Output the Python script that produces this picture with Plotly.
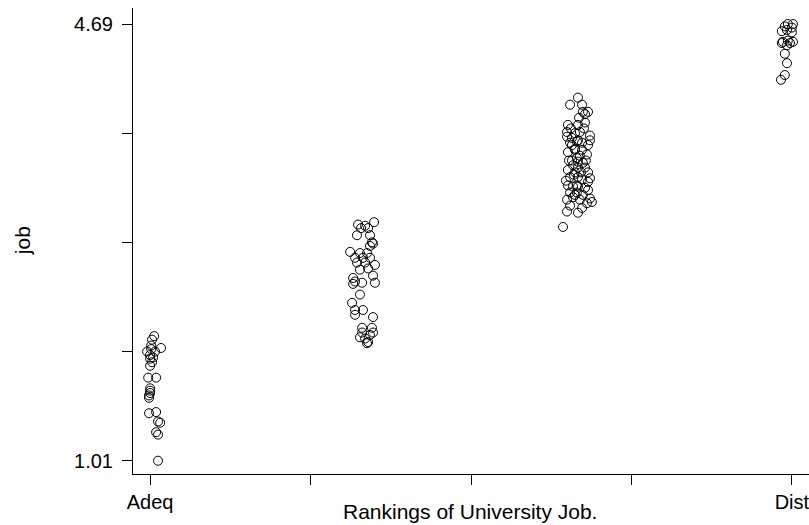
import plotly.graph_objects as go

# Group positions (ranking level) and jittered points
group_pos = [1, 2, 3, 4]

g1_jit = [0.019, 0.009, 0.051, 0.005, 0.005, 0.023, -0.014, 0.0, 0.014, 0.0, 0.009, 0.0,
          -0.009, 0.028, 0.0, 0.0, 0.0, -0.005, -0.005, -0.005, 0.028, 0.037, 0.047, 0.028,
          0.037, 0.037]
g1_y = [2.06, 2.03, 1.96, 1.98, 1.95, 1.93, 1.93, 1.90, 1.88, 1.87, 1.84, 1.81,
        1.71, 1.71, 1.62, 1.60, 1.58, 1.56, 1.54, 1.41, 1.42, 1.34, 1.33, 1.25,
        1.23, 1.01]

g2_jit = [0.047, -0.028, 0.005, -0.014, 0.019, -0.033, 0.028, 0.037, 0.042, 0.028,
          -0.065, -0.019, 0.014, -0.042, -0.005, 0.028, -0.033, 0.005, 0.051, -0.019,
          0.019, 0.042, -0.051, -0.042, -0.009, 0.051, -0.051, -0.019, -0.056, -0.042,
          -0.005, -0.042, 0.042, -0.009, 0.037, -0.009, 0.042, 0.028, 0.005, 0.019,
          0.014, -0.019]
g2_y = [3.02, 3.00, 2.99, 2.97, 2.97, 2.91, 2.91, 2.85, 2.84, 2.82,
        2.77, 2.76, 2.76, 2.72, 2.72, 2.72, 2.68, 2.68, 2.66, 2.62,
        2.63, 2.57, 2.55, 2.52, 2.51, 2.51, 2.50, 2.41, 2.34, 2.28,
        2.28, 2.24, 2.22, 2.13, 2.13, 2.09, 2.09, 2.07, 2.04, 2.01,
        2.00, 2.05]

g3_jit = [0.0, -0.037, 0.019, 0.023, 0.047, 0.033, -0.047, 0.0, 0.033, -0.051,
          -0.014, 0.009, 0.056, -0.051, -0.028, 0.0, -0.037, -0.005, 0.019, 0.047,
          -0.047, -0.014, 0.019, 0.042, -0.028, -0.005, 0.0, -0.023, 0.023, 0.0,
          0.033, -0.047, -0.014, 0.047, -0.037, 0.0, 0.056, 0.019, 0.047, -0.047,
          -0.023, 0.0, 0.033, -0.037, -0.005, 0.023, 0.056, -0.051, -0.023, 0.009,
          0.042, 0.065, -0.037, -0.051, -0.070,
          -0.014, 0.009, -0.028, 0.037, -0.019, 0.014, -0.005, 0.056, -0.056, 0.028,
          -0.033, 0.005, -0.014, 0.047, -0.042, 0.019, 0.0]
g3_y = [4.07, 4.01, 4.01, 3.95, 3.95, 3.93, 3.84, 3.84, 3.86, 3.78,
        3.77, 3.78, 3.75, 3.74, 3.73, 3.71, 3.69, 3.70, 3.69, 3.67,
        3.61, 3.64, 3.63, 3.59, 3.54, 3.56, 3.53, 3.50, 3.52, 3.48,
        3.48, 3.46, 3.44, 3.44, 3.40, 3.40, 3.39, 3.38, 3.36, 3.33,
        3.32, 3.32, 3.31, 3.27, 3.27, 3.25, 3.22, 3.21, 3.23, 3.21,
        3.18, 3.19, 3.16, 3.11, 2.98,
        3.63, 3.58, 3.67, 3.54, 3.42, 3.44, 3.33, 3.71, 3.37, 3.81,
        3.81, 3.90, 3.25, 3.29, 3.54, 3.14, 3.10]

g4_jit = [-0.019, 0.005, -0.033, 0.0, -0.047, -0.023, 0.0, -0.042, -0.019, 0.005,
          -0.047, -0.009, -0.023, -0.033, -0.023, -0.033, -0.051]
g4_y = [4.69, 4.69, 4.67, 4.66, 4.63, 4.64, 4.62, 4.54, 4.55, 4.54,
        4.53, 4.53, 4.51, 4.44, 4.36, 4.26, 4.22]

x_tickvals = [1, 1.75, 2.5, 3.25, 4]
x_ticktext = ["Adeq", "", "", "", "Dist"]
y_tickvals = [1.01, 1.93, 2.85, 3.77, 4.69]
y_ticktext = ["1.01", "", "", "", "4.69"]
x_title = "Rankings of University Job."
y_title = "job"

xs, ys = [], []
for pos, jit, yv in zip(group_pos, [g1_jit, g2_jit, g3_jit, g4_jit], [g1_y, g2_y, g3_y, g4_y]):
    xs += [pos + j for j in jit]
    ys += yv

fig = go.Figure(go.Scatter(
    x=xs, y=ys, mode="markers",
    marker=dict(symbol="circle-open", size=9, color="black", line=dict(width=1, color="black")),
    showlegend=False, hoverinfo="skip"))

font = dict(family="Liberation Sans, Arial, sans-serif", size=20, color="black")
title_font = dict(family="Liberation Sans, Arial, sans-serif", size=21, color="black")

fig.update_layout(
    width=809, height=525,
    margin=dict(l=133, r=0, t=8, b=51),
    paper_bgcolor="white", plot_bgcolor="white",
    font=font,
    xaxis=dict(range=[0.92, 4.08], tickvals=x_tickvals, ticktext=x_ticktext,
               ticks="outside", ticklen=10, tickcolor="black", tickwidth=1,
               showline=True, linecolor="black", linewidth=1, showgrid=False,
               zeroline=False, tickfont=font, automargin=False, ticklabelstandoff=0,
               ticklabeloverflow="allow"),
    yaxis=dict(range=[0.898, 4.825], tickvals=y_tickvals, ticktext=y_ticktext,
               ticks="outside", ticklen=10, tickcolor="black", tickwidth=1,
               showline=True, linecolor="black", linewidth=1, showgrid=False,
               zeroline=False, tickfont=font, automargin=False, ticklabelstandoff=5,
               ticklabeloverflow="allow"),
    annotations=[
        dict(text=x_title, xref="paper", yref="paper", x=0.4985, y=-0.0815,
             xanchor="center", yanchor="middle", showarrow=False, font=title_font),
        dict(text=y_title, xref="paper", yref="paper", x=-0.164, y=0.5,
             xanchor="center", yanchor="middle", textangle=-90, showarrow=False, font=title_font),
    ],
)

fig.write_html("out.html")
